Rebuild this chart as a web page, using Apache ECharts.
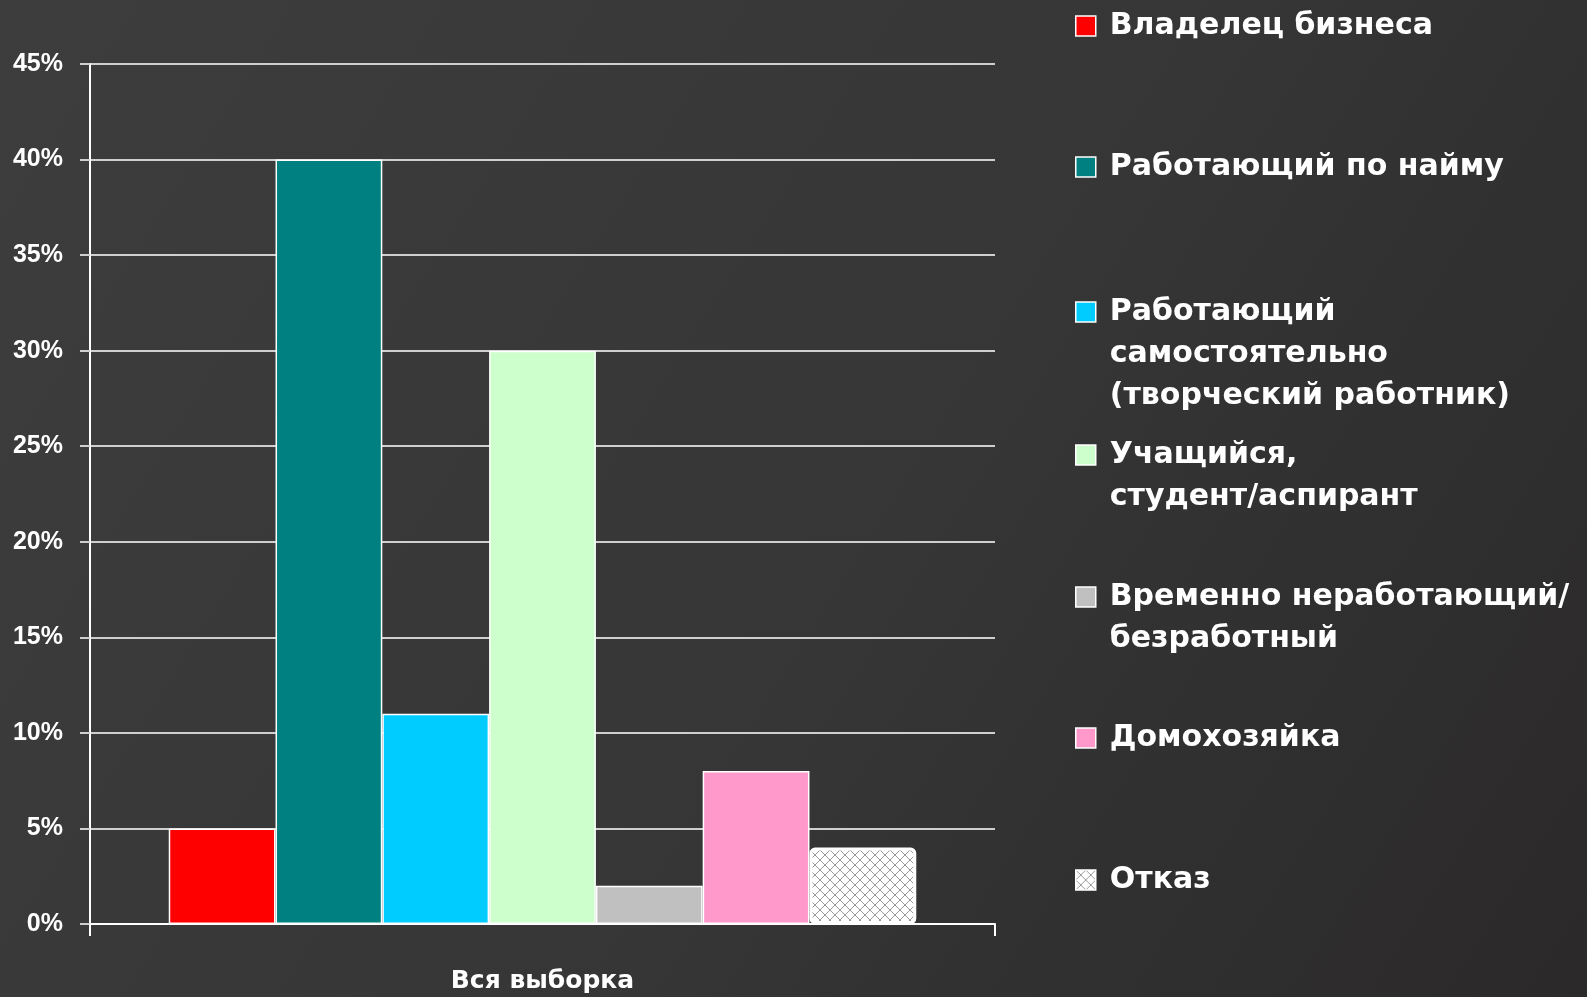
<!DOCTYPE html>
<html>
<head>
<meta charset="utf-8">
<script src="https://cdn.jsdelivr.net/npm/echarts@6/dist/echarts.min.js"></script>
<style>
html,body{margin:0;padding:0;background:#363636;}
#chart{width:1587px;height:997px;}
</style>
</head>
<body>
<div id="chart"></div>
<script>
// ---- data ----
const categories = ['Вся выборка'];
const seriesNames = [
  'Владелец бизнеса',
  'Работающий по найму',
  'Работающий самостоятельно (творческий работник)',
  'Учащийся, студент/аспирант',
  'Временно неработающий/безработный',
  'Домохозяйка',
  'Отказ'
];
const legendLabels = [
  'Владелец бизнеса',
  'Работающий по найму',
  'Работающий\nсамостоятельно\n(творческий работник)',
  'Учащийся,\nстудент/аспирант',
  'Временно неработающий/\nбезработный',
  'Домохозяйка',
  'Отказ'
];
const seriesValues = [[5], [40], [11], [30], [2], [8], [4]];
const yTicks = [0, 5, 10, 15, 20, 25, 30, 35, 40, 45];

// ---- styles ----
function hatch() {
  const c = document.createElement('canvas');
  c.width = 10; c.height = 10;
  const g = c.getContext('2d');
  g.fillStyle = '#ffffff';
  g.fillRect(0, 0, 10, 10);
  g.strokeStyle = '#9a9a9a';
  g.lineWidth = 1;
  g.beginPath();
  g.moveTo(0, 0); g.lineTo(10, 10);
  g.moveTo(10, 0); g.lineTo(0, 10);
  g.stroke();
  return c;
}
const colors = ['#ff0000', '#008080', '#00ccff', '#ccffcc', '#c0c0c0', '#ff99cc',
  { image: hatch(), repeat: 'repeat' }];
const legendCenters = [26, 167, 312, 455, 597, 738, 880];
const LH = 42;

const chart = echarts.init(document.getElementById('chart'));
const legends = seriesNames.map((name, i) => {
  const n = legendLabels[i].split('\n').length;
  // pad with empty lines above so the first line sits level with the icon
  const padded = '\n'.repeat(n - 1) + legendLabels[i];
  return {
    data: [name],
    left: 1075,
    top: legendCenters[i] - (2 * n - 1) * LH / 2,
    padding: 0,
    itemWidth: 20,
    itemHeight: 20,
    icon: 'rect',
    selectedMode: false,
    itemStyle: { borderColor: '#ffffff', borderWidth: 1.5 },
    formatter: () => padded,
    textStyle: {
      color: '#ffffff',
      fontFamily: 'DejaVu Sans, sans-serif',
      fontWeight: 'bold',
      fontSize: 30,
      lineHeight: LH,
      padding: [0, 0, 0, 9]
    }
  };
});

chart.setOption({
  animation: false,
  backgroundColor: {
    type: 'linear', x: 0, y: 0, x2: 1, y2: 1,
    colorStops: [
      { offset: 0, color: '#3d3d3d' },
      { offset: 0.55, color: '#363636' },
      { offset: 1, color: '#2b2929' }
    ]
  },
  legend: legends,
  grid: { left: 90, right: 592, top: 64, bottom: 73, containLabel: false },
  xAxis: {
    type: 'category',
    data: categories,
    axisLine: { lineStyle: { color: '#ffffff', width: 2 } },
    axisTick: { show: true, length: 12, lineStyle: { color: '#ffffff', width: 2 } },
    axisLabel: {
      color: '#ffffff', fontFamily: 'DejaVu Sans, sans-serif',
      fontWeight: 'bold', fontSize: 25, margin: 45
    }
  },
  yAxis: {
    type: 'value',
    min: yTicks[0],
    max: yTicks[yTicks.length - 1],
    interval: 5,
    axisLine: { show: true, lineStyle: { color: '#ffffff', width: 2 } },
    axisTick: { show: true, length: 10, lineStyle: { color: '#cfcfcf', width: 2 } },
    splitLine: { show: true, lineStyle: { color: '#cfcfcf', width: 2 } },
    axisLabel: {
      color: '#ffffff', fontFamily: 'Liberation Sans, Arial, sans-serif',
      fontWeight: 'bold', fontSize: 25, margin: 27,
      formatter: '{value}%'
    }
  },
  series: seriesNames.map((name, i) => ({
    name: name,
    type: 'bar',
    data: seriesValues[i],
    barGap: '0%',
    barCategoryGap: '17.4%',
    itemStyle: {
      color: colors[i],
      borderColor: '#ffffff',
      borderWidth: i === 6 ? 3 : 1.5,
      borderRadius: i === 6 ? 4 : 0
    }
  }))
});
</script>
</body>
</html>
